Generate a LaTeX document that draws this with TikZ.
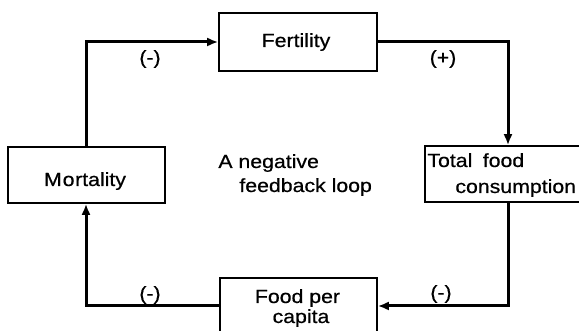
\documentclass[tikz,border=0pt]{standalone}
\usepackage{fontspec}
\setmainfont[FakeStretch=1.12,FakeBold=0.6]{Liberation Sans}
\usetikzlibrary{arrows.meta}
\begin{document}
\begin{tikzpicture}[x=0.5pt,y=-0.5pt,
  box/.style={draw,line width=0.8pt,inner sep=0pt,minimum width=#1},
  lbl/.style={inner sep=0pt,font=\fontsize{9.5pt}{11pt}\selectfont},
  link/.style={line width=1.5pt,-{Latex[length=5.5pt,width=4.5pt]}},
  sign/.style={inner sep=0pt,font=\fontsize{9.5pt}{11pt}\selectfont}]
\useasboundingbox (0,0) rectangle (579,331);

% boxes
\node[box=79pt,minimum height=29pt] (fert) at (298,42) {};
\node[box=78.5pt,minimum height=28pt] (mort) at (86.5,175) {};
\node[box=81.5pt,minimum height=28pt] (cons) at (506.5,174) {};
\node[box=78.5pt,minimum height=29pt] (fpc) at (298.5,307) {};

% box texts
\node[lbl,anchor=base] (tfert) at (296,47) {Fertility};
\node[lbl,anchor=base] (tmort) at (85,186) {M\kern0.05em o\kern0.03em rtality};
\node[lbl,anchor=base west] (tcons1) at (427,167) {Total\hspace{0.55em}food};
\node[lbl,anchor=base west] (tcons2) at (455,193) {consumption};
\node[lbl,anchor=base] (tfpc1) at (297.5,303) {Food per};
\node[lbl,anchor=base] (tfpc2) at (301,323) {capita};

% centre caption
\node[lbl,anchor=base west] (cap1) at (218,168) {A negative};
\node[lbl,anchor=base west] (cap2) at (239,192) {feedback loop};

% loop connectors
\coordinate (c1) at (86,42);
\coordinate (c2) at (508,42);
\coordinate (c3) at (508,306);
\coordinate (c4) at (86,306);
\draw[link] (mort.north -| c1) -- (c1) -- (fert.west |- c1);
\draw[link] (fert.east |- c2) -- (c2) -- (cons.north -| c2);
\draw[link] (cons.south -| c3) -- (c3) -- (fpc.east |- c3);
\draw[link] (fpc.west |- c4) -- (c4) -- (mort.south -| c4);

% signs
\node[sign] (s1) at (150,59) {(-)};
\node[sign] (s2) at (443,59) {(+)};
\node[sign] (s3) at (441,294) {(-)};
\node[sign] (s4) at (150,295) {(-)};
\end{tikzpicture}
\end{document}
